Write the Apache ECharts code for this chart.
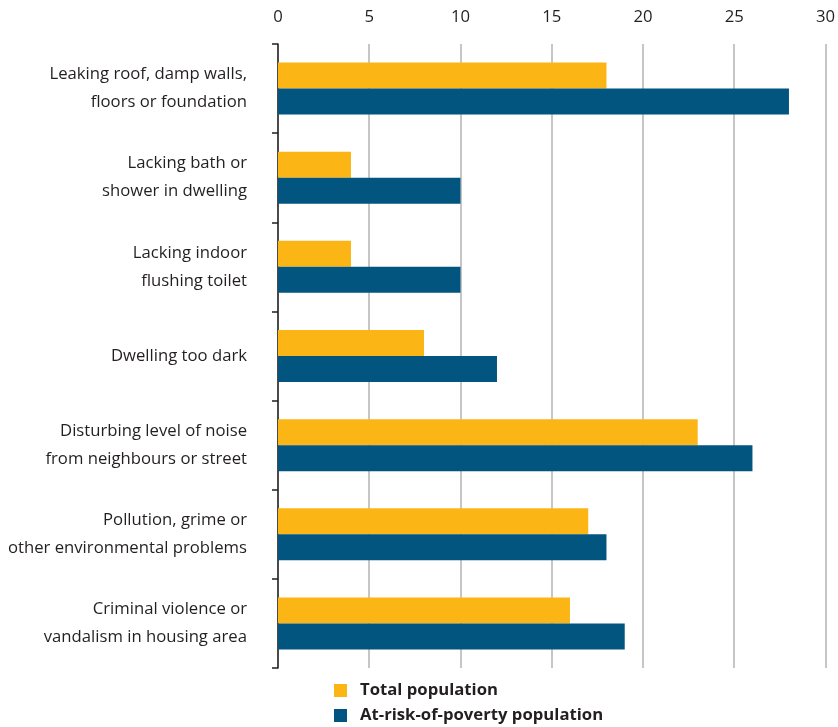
<!DOCTYPE html>
<html>
<head>
<meta charset="utf-8">
<script src="https://cdn.jsdelivr.net/npm/echarts@6/dist/echarts.min.js"></script>
<style>html,body{margin:0;padding:0;background:#fff}#c{width:838px;height:727px}</style>
</head>
<body>
<div id="c"></div>
<script>
const categories = [
  "Leaking roof, damp walls,\nfloors or foundation",
  "Lacking bath or\nshower in dwelling",
  "Lacking indoor\nflushing toilet",
  "Dwelling too dark",
  "Disturbing level of noise\nfrom neighbours or street",
  "Pollution, grime or\nother environmental problems",
  "Criminal violence or\nvandalism in housing area"
];
const totalPopulation = [18, 4, 4, 8, 23, 17, 16];
const povertyPopulation = [28, 10, 10, 12, 26, 18, 19];
const seriesNames = ["Total population", "At-risk-of-poverty population"];

const chart = echarts.init(document.getElementById('c'));
const font = "'Open Sans', 'Noto Sans', sans-serif";
chart.setOption({
  animation: false,
  textStyle: { fontFamily: font },
  grid: { left: 278, right: 11, top: 44, bottom: 59, containLabel: false },
  xAxis: {
    type: 'value', position: 'top', min: 0, max: 30, interval: 5,
    axisLine: { show: false }, axisTick: { show: false },
    axisLabel: { color: '#231f20', fontSize: 16.7, fontFamily: font, margin: 18 },
    splitLine: { show: true, lineStyle: { color: '#b3b3b3', width: 1.5 } }
  },
  yAxis: {
    type: 'category', inverse: true, data: categories,
    axisLine: { show: true, lineStyle: { color: '#231f20', width: 1.5 } },
    axisTick: { show: true, length: 6, lineStyle: { color: '#231f20', width: 1.5 } },
    axisLabel: { color: '#231f20', fontSize: 16.7, fontFamily: font, lineHeight: 28, margin: 31, align: 'right' }
  },
  legend: {
    orient: 'vertical', left: 334, top: 682, height: 60, padding: 0,
    itemWidth: 13, itemHeight: 13, itemGap: 8,
    icon: 'rect',
    textStyle: { color: '#231f20', fontSize: 16.7, fontWeight: 'bold', fontFamily: font, padding: [0, 0, 0, 8] },
    data: seriesNames
  },
  series: [
    { name: seriesNames[0], type: 'bar', data: totalPopulation, barWidth: 26, barGap: '0%', itemStyle: { color: '#fbb616' } },
    { name: seriesNames[1], type: 'bar', data: povertyPopulation, barWidth: 26, barGap: '0%', itemStyle: { color: '#02557f' } }
  ]
});
</script>
</body>
</html>
